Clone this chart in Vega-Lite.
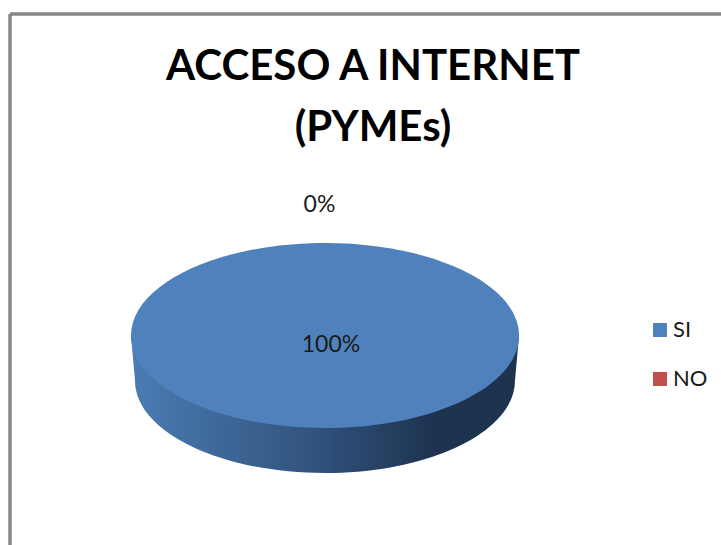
{
  "$schema": "https://vega.github.io/schema/vega-lite/v6.json",
  "width": 711,
  "height": 531,
  "padding": {"left": 10, "top": 14, "right": 0, "bottom": 0},
  "autosize": "none",
  "background": "white",
  "config": {"view": {"stroke": null}, "font": "Lato"},
  "title": {
    "text": ["ACCESO A INTERNET", "(PYMEs)"],
    "font": "Lato",
    "fontSize": 42,
    "fontWeight": "bold",
    "color": "#000000",
    "lineHeight": 61,
    "anchor": "middle",
    "frame": "group",
    "dx": 7.5,
    "baseline": "top",
    "offset": -137
  },
  "data": {
    "values": [
      {"categoria": "SI", "valor": 100, "etiqueta": "100%"},
      {"categoria": "NO", "valor": 0, "etiqueta": "0%"}
    ]
  },
  "layer": [
    {
      "transform": [{"filter": "datum.valor > 0"}],
      "mark": {
        "type": "point",
        "filled": true,
        "opacity": 1,
        "size": 4,
        "shape": "M-194,0L-190,45A190,92.5 0 0 0 190,45L194,0Z",
        "color": {
          "gradient": "linear",
          "x1": 0, "y1": 0, "x2": 1, "y2": 0,
          "stops": [
            {"offset": 0, "color": "#4a7cb3"},
            {"offset": 0.5, "color": "#30507a"},
            {"offset": 0.78, "color": "#1d3350"},
            {"offset": 1, "color": "#1d3350"}
          ]
        }
      },
      "encoding": {
        "x": {"field": "valor", "type": "quantitative", "axis": null, "scale": {"domain": [0, 100], "range": [0, 315]}},
        "y": {"field": "valor", "type": "quantitative", "axis": null, "scale": {"domain": [0, 100], "range": [0, 321.5]}}
      }
    },
    {
      "transform": [{"filter": "datum.valor > 0"}],
      "mark": {
        "type": "point",
        "filled": true,
        "opacity": 1,
        "size": 4,
        "shape": "M-194,0A194,92.5 0 1 1 194,0A194,92.5 0 1 1 -194,0Z"
      },
      "encoding": {
        "x": {"field": "valor", "type": "quantitative", "axis": null, "scale": {"domain": [0, 100], "range": [0, 315]}},
        "y": {"field": "valor", "type": "quantitative", "axis": null, "scale": {"domain": [0, 100], "range": [0, 321.5]}},
        "color": {
          "field": "categoria",
          "type": "nominal",
          "scale": {"domain": ["SI", "NO"], "range": ["#4f81bd", "#c0504d"]},
          "legend": {
            "title": null,
            "orient": "none",
            "legendX": 639,
            "legendY": 305,
            "symbolType": "square",
            "symbolSize": 196,
            "symbolOpacity": 1,
            "symbolStrokeWidth": 0,
            "labelFont": "Lato",
            "labelFontSize": 22,
            "labelColor": "#1a1a1a",
            "labelOffset": 2,
            "rowPadding": 27,
            "values": ["SI", "NO"]
          }
        }
      }
    },
    {
      "mark": {"type": "text", "font": "Lato", "fontSize": 23, "color": "#1a1a1a", "baseline": "middle", "align": "center"},
      "encoding": {
        "x": {"field": "valor", "type": "quantitative", "axis": null, "scale": {"domain": [0, 100], "range": [309.5, 321]}},
        "y": {"field": "valor", "type": "quantitative", "axis": null, "scale": {"domain": [0, 100], "range": [191, 331]}},
        "text": {"field": "etiqueta"}
      }
    },
    {
      "mark": {"type": "rule", "color": "#868686", "strokeWidth": 3},
      "encoding": {
        "x": {"datum": 0, "type": "quantitative", "axis": null, "scale": {"domain": [0, 1]}}
      }
    },
    {
      "mark": {"type": "rule", "color": "#868686", "strokeWidth": 3},
      "encoding": {
        "y": {"datum": 1, "type": "quantitative", "axis": null, "scale": {"domain": [0, 1]}}
      }
    }
  ],
  "resolve": {"scale": {"x": "independent", "y": "independent", "color": "independent"}}
}
